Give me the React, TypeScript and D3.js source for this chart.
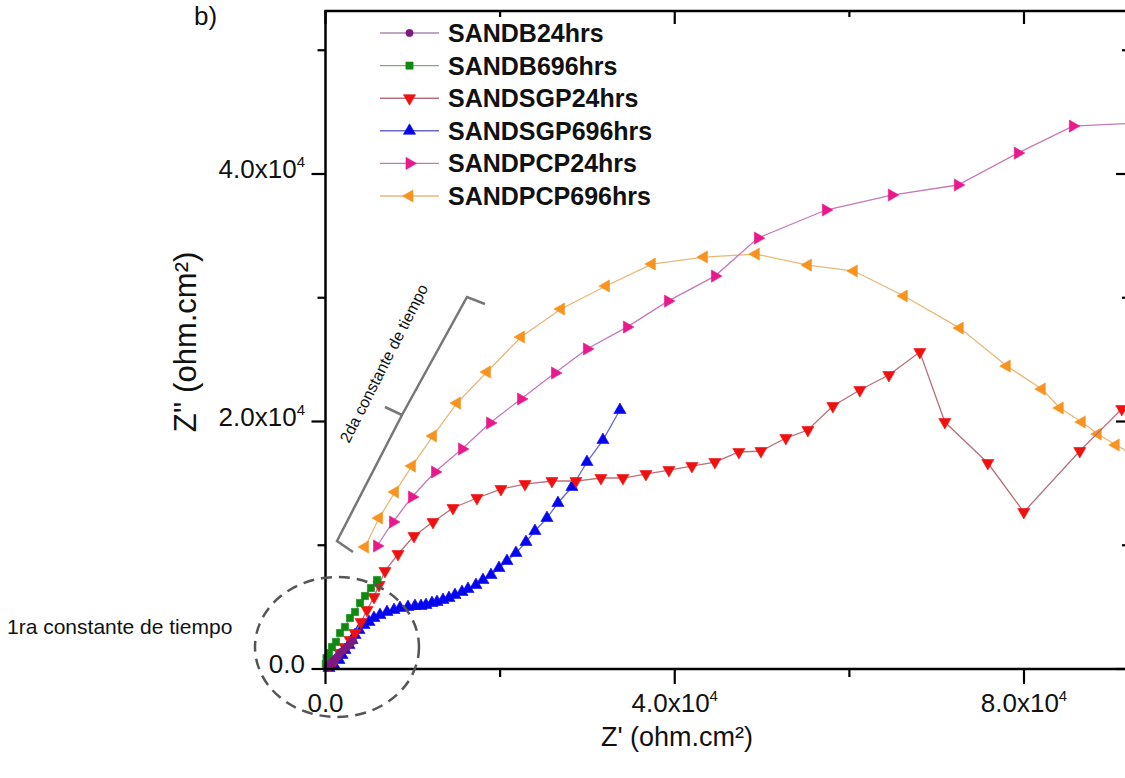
import React from "react";
import * as d3 from "d3";

// ---- data (Z', Z'') in ohm.cm² ----
const sandB24: [number, number][] = [
  [172, 162], [401, 323], [630, 485], [859, 646], [1088, 808], [1317, 970],
  [1546, 1131], [1775, 1374], [2118, 1535], [2462, 1778], [2805, 2020], [3149, 2262],
];

const sandB696: [number, number][] = [
  [30, 404], [115, 889], [401, 1293], [744, 1778], [1202, 2182], [1660, 2909],
  [2233, 3394], [2805, 4121], [3378, 4606], [3950, 5333], [4523, 5898], [5210, 6545],
  [5897, 7191],
];

const sandSGP24: [number, number][] = [
  [515, 323], [1088, 727], [1660, 1293], [2233, 1778], [2805, 2343], [3378, 2909],
  [4065, 3798], [4752, 4767], [5553, 5818], [6126, 6787], [6813, 7918], [8301, 9292],
  [10133, 10746], [12309, 11878], [14599, 13009], [17347, 13817], [20095, 14544],
  [22843, 14948], [25934, 15190], [28682, 15190], [31545, 15433], [34064, 15433],
  [36697, 15756], [39331, 16079], [41964, 16402], [44598, 16726], [47346, 17534],
  [49865, 17614], [52727, 18665], [55246, 19311], [58109, 21250], [61200, 22543],
  [64521, 23755], [68070, 25614], [70933, 19958], [75856, 16645], [79978, 12686],
  [86390, 17614], [91199, 21008], [95700, 21330],
];

const sandSGP696: [number, number][] = [
  [401, 81], [973, 323], [1546, 727], [1889, 1131], [2233, 1535], [2691, 1939],
  [3034, 2343], [3378, 2747], [3836, 3151], [4408, 3555], [4981, 3798], [5553, 4121],
  [6240, 4363], [7042, 4606], [7843, 4767], [8530, 4929], [9446, 5010], [10248, 5090],
  [10935, 5090], [11507, 5171], [12194, 5333], [12767, 5414], [13454, 5575],
  [14141, 5737], [14828, 5979], [15629, 6222], [16316, 6464], [17232, 6787],
  [18034, 7191], [18950, 7595], [19866, 8161], [20782, 8726], [21812, 9373],
  [22957, 10262], [23988, 11150], [25362, 12201], [26621, 13413], [28224, 14706],
  [29942, 16726], [31774, 18503], [33720, 20927],
];

const sandPCP24: [number, number][] = [
  [5900, 9940], [7730, 11880], [9900, 13900], [12540, 15920], [15630, 17780],
  [18840, 19880], [22390, 21820], [26280, 23920], [29940, 25860], [34520, 27630],
  [39220, 29730], [44600, 31750], [49520, 34820], [57310, 37090], [64860, 38300],
  [72420, 39110], [79290, 41690], [85590, 43870], [92700, 44100],
];

const sandPCP696: [number, number][] = [
  [4520, 9860], [6130, 12200], [7960, 14300], [9900, 16400], [12310, 18830],
  [15060, 21490], [18490, 24000], [22390, 26830], [26970, 29090], [32120, 30950],
  [37380, 32720], [43340, 33290], [49290, 33530], [55250, 32640], [60510, 32160],
  [66240, 30140], [72650, 27550], [78030, 24480], [82040, 22620], [84100, 21090],
  [86620, 19960], [88450, 18990], [90510, 18100], [93260, 17050],
];

// ---- axis ticks ----
const xMajorTicks = [0, 40000, 80000];
const xMinorTicks = [20000, 60000];
const yMajorTicks = [0, 20000, 40000];
const yMinorTicks = [10000, 30000, 50000];

type Shape = "circle" | "square" | "down" | "up" | "right" | "left";

interface Series {
  name: string;
  data: [number, number][];
  color: string;
  line: string;
  shape: Shape;
}

const seriesList: Series[] = [
  { name: "SANDB24hrs", data: sandB24, color: "#7b1a80", line: "#a98aaa", shape: "circle" },
  { name: "SANDB696hrs", data: sandB696, color: "#0e8a10", line: "#7cab7c", shape: "square" },
  { name: "SANDSGP24hrs", data: sandSGP24, color: "#f01010", line: "#b8707a", shape: "down" },
  { name: "SANDSGP696hrs", data: sandSGP696, color: "#0606ee", line: "#6868c4", shape: "up" },
  { name: "SANDPCP24hrs", data: sandPCP24, color: "#e8198b", line: "#c47ab6", shape: "right" },
  { name: "SANDPCP696hrs", data: sandPCP696, color: "#f7931e", line: "#e8b878", shape: "left" },
];

const x = d3.scaleLinear().domain([0, 80000]).range([325.5, 1024]);
const y = d3.scaleLinear().domain([0, 40000]).range([669, 174]);

const plotLeft = 325.5;
const plotRight = 1128;
const plotTop = 11;
const plotBottom = 669;

const FONT = "'Liberation Sans', Arial, Helvetica, sans-serif";

function symbolPath(shape: Shape): { d: string; rot: number } {
  if (shape === "circle") return { d: d3.symbol(d3.symbolCircle, 42)()!, rot: 0 };
  if (shape === "square") return { d: d3.symbol(d3.symbolSquare, 52)()!, rot: 0 };
  const tri = d3.symbol(d3.symbolTriangle, 64)()!;
  const rot = shape === "up" ? 0 : shape === "down" ? 180 : shape === "right" ? 90 : -90;
  return { d: tri, rot };
}

function Marker({ cx, cy, shape, color }: { cx: number; cy: number; shape: Shape; color: string }) {
  const { d, rot } = symbolPath(shape);
  return (
    <path
      d={d}
      transform={`translate(${cx},${cy}) rotate(${rot})`}
      fill={color}
      stroke={color}
      strokeWidth={0.6}
    />
  );
}

function tickLabel(v: number) {
  if (v === 0) return null;
  return (v / 10000).toFixed(1);
}

export default function App() {
  const line = d3
    .line<[number, number]>()
    .x((d) => x(d[0]))
    .y((d) => y(d[1]));

  const drawOrder = [...seriesList].reverse();

  return (
    <svg
      width={1125}
      height={778}
      viewBox="0 0 1125 778"
      style={{ position: "absolute", left: 0, top: 0, background: "#fff" }}
    >
      <rect x={0} y={0} width={1125} height={778} fill="#fff" />

      {/* series */}
      {drawOrder.map((s) => (
        <g key={s.name}>
          <path d={line(s.data)!} fill="none" stroke={s.line} strokeWidth={1.3} />
          {s.data.map((d, i) => (
            <Marker key={i} cx={x(d[0])} cy={y(d[1])} shape={s.shape} color={s.color} />
          ))}
        </g>
      ))}

      {/* frame */}
      <g stroke="#000" strokeWidth={2.5} fill="none">
        <line x1={plotLeft} y1={plotTop} x2={plotLeft} y2={plotBottom} />
        <line x1={plotLeft - 1.25} y1={plotBottom} x2={plotRight} y2={plotBottom} />
        <line x1={plotLeft - 1.25} y1={plotTop} x2={plotRight} y2={plotTop} />
        <line x1={plotRight} y1={plotTop} x2={plotRight} y2={plotBottom} />
      </g>

      {/* x ticks: outward at bottom, inward at top */}
      <g stroke="#000" strokeWidth={2.2}>
        {xMajorTicks.map((t) => (
          <g key={"xM" + t}>
            <line x1={x(t)} x2={x(t)} y1={plotBottom} y2={plotBottom + 15} />
            <line x1={x(t)} x2={x(t)} y1={plotTop} y2={plotTop + 13} />
          </g>
        ))}
        {xMinorTicks.map((t) => (
          <g key={"xm" + t}>
            <line x1={x(t)} x2={x(t)} y1={plotBottom} y2={plotBottom + 8} />
            <line x1={x(t)} x2={x(t)} y1={plotTop} y2={plotTop + 6} />
          </g>
        ))}
        {yMajorTicks.map((t) => (
          <g key={"yM" + t}>
            <line y1={y(t)} y2={y(t)} x1={plotLeft} x2={plotLeft - 14} />
            <line y1={y(t)} y2={y(t)} x1={plotRight} x2={plotRight - 12} />
          </g>
        ))}
        {yMinorTicks.map((t) => (
          <g key={"ym" + t}>
            <line y1={y(t)} y2={y(t)} x1={plotLeft} x2={plotLeft - 8} />
            <line y1={y(t)} y2={y(t)} x1={plotRight} x2={plotRight - 6} />
          </g>
        ))}
      </g>

      {/* tick labels */}
      <g fontFamily={FONT} fontSize={26} fill="#111">
        {xMajorTicks.map((t) => {
          const m = tickLabel(t);
          return (
            <text key={"xl" + t} x={x(t)} y={712} textAnchor="middle">
              {m === null ? "0.0" : (
                <>
                  {m}x10
                  <tspan fontSize={15} dy={-11}>4</tspan>
                </>
              )}
            </text>
          );
        })}
        {yMajorTicks.map((t) => {
          const m = tickLabel(t);
          return (
            <text key={"yl" + t} x={305} y={y(t) + 4} textAnchor="end">
              {m === null ? "0.0" : (
                <>
                  {m}x10
                  <tspan fontSize={15} dy={-11}>4</tspan>
                </>
              )}
            </text>
          );
        })}
      </g>

      {/* axis titles */}
      <text x={677} y={746} textAnchor="middle" fontFamily={FONT} fontSize={27} fill="#111">
        Z' (ohm.cm²)
      </text>
      <text
        transform="translate(196,342) rotate(-90)"
        textAnchor="middle"
        fontFamily={FONT}
        fontSize={31}
        fill="#111"
      >
        Z'' (ohm.cm²)
      </text>

      {/* panel letter */}
      <text x={194} y={25} fontFamily={FONT} fontSize={26} fill="#111">b)</text>

      {/* legend */}
      <g>
        {seriesList.map((s, i) => {
          const cy = 33 + i * 32.6;
          return (
            <g key={"lg" + s.name}>
              <line x1={380} x2={439} y1={cy} y2={cy} stroke={s.line} strokeWidth={1.4} />
              <Marker cx={409.5} cy={cy} shape={s.shape} color={s.color} />
              <text x={448} y={cy + 9} fontFamily={FONT} fontSize={25} fontWeight="bold" fill="#111">
                {s.name}
              </text>
            </g>
          );
        })}
      </g>

      {/* first time constant */}
      <ellipse
        cx={337}
        cy={647}
        rx={82}
        ry={70}
        fill="none"
        stroke="#555"
        strokeWidth={2.5}
        strokeDasharray="11 7"
      />
      <text x={7} y={634} fontFamily={FONT} fontSize={21} fill="#111">
        1ra constante de tiempo
      </text>

      {/* second time constant bracket */}
      <path
        d="M485,304 L467,297 L402,415 L337,541 L353,552 M402,415 L385,407"
        fill="none"
        stroke="#777"
        strokeWidth={2.5}
        strokeLinejoin="miter"
      />
      <text
        transform="translate(349,444) rotate(-63)"
        fontFamily={FONT}
        fontSize={16}
        fill="#111"
      >
        2da constante de tiempo
      </text>
    </svg>
  );
}
